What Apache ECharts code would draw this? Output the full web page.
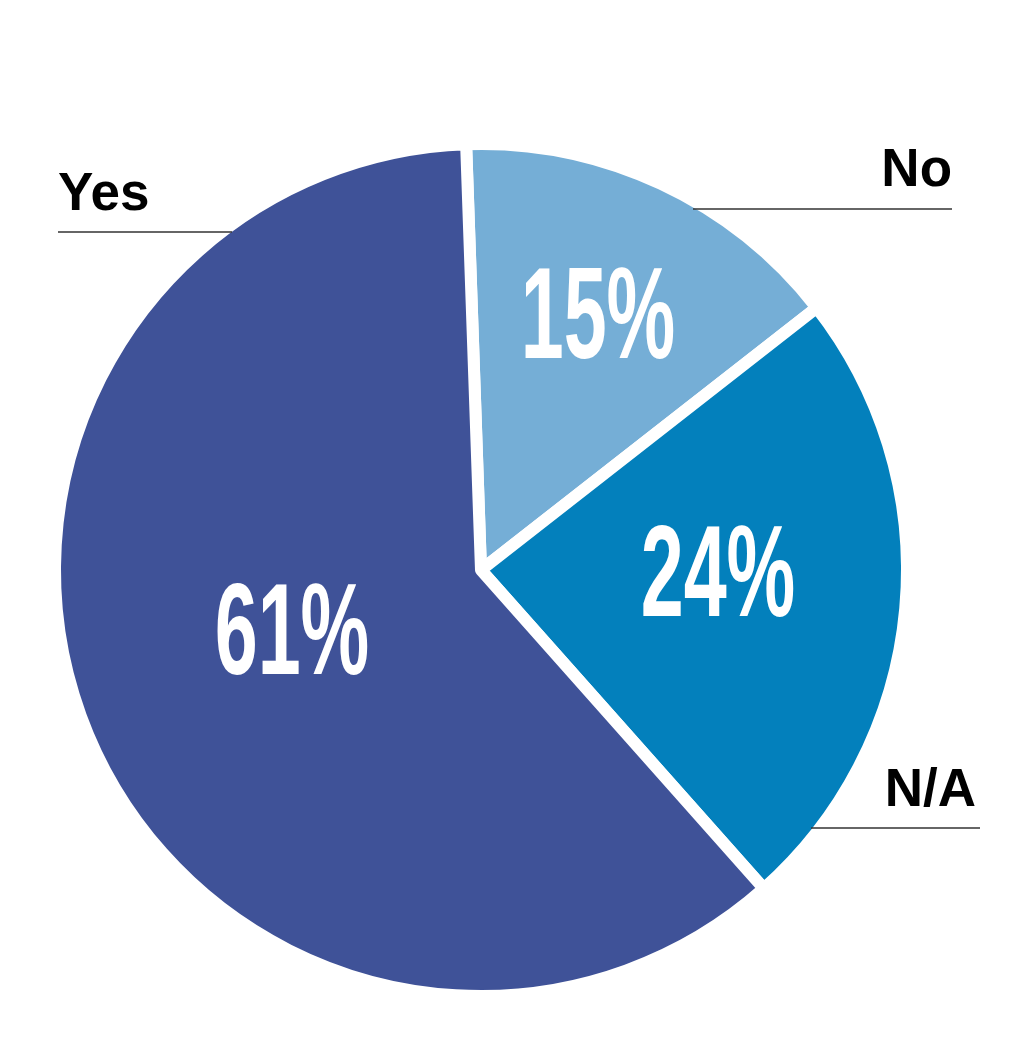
<!DOCTYPE html>
<html>
<head>
<meta charset="utf-8">
<script src="https://cdn.jsdelivr.net/npm/echarts@6/dist/echarts.min.js"></script>
<style>html,body{margin:0;padding:0;background:#fff;}#c{width:1015px;height:1055px;}</style>
</head>
<body>
<div id="c"></div>
<script>
const categories = ['No', 'N/A', 'Yes'];
const values = [15, 24, 61];
const colors = ['#75AED6', '#0380BC', '#3F5298'];

const CENTER = [481, 570];
const R = 426;
// label anchors (layout only)
const innerPos = [[598, 322], [718, 580], [292, 638]];
const outerLab = [
  {x: 952, y: 198, align: 'right', lineY: 209, x1: 693, x2: 952},
  {x: 976, y: 818, align: 'right', lineY: 828, x1: 811, x2: 980},
  {x: 58,  y: 222, align: 'left',  lineY: 232, x1: 232, x2: 58}
];

const chart = echarts.init(document.getElementById('c'), null, {renderer: 'canvas'});
const pieData = categories.map((c, i) => ({name: c, value: values[i], itemStyle: {color: colors[i]}}));

chart.setOption({
  animation: false,
  backgroundColor: '#ffffff',
  series: [
    {
      type: 'pie', z: 2,
      center: CENTER, radius: [0, R], startAngle: 92, clockwise: true,
      data: pieData,
      itemStyle: {borderColor: '#ffffff', borderWidth: 12},
      label: {
        show: true, position: 'inside', formatter: '{d}%', color: '#ffffff',
        fontFamily: '"Liberation Sans",Arial,sans-serif', fontWeight: 'bold', fontSize: 92
      },
      labelLine: {show: false},
      labelLayout: function (p) {
        const q = innerPos[p.dataIndex];
        return {x: q[0], y: q[1], align: 'center', verticalAlign: 'middle'};
      },
      emphasis: {disabled: true}
    },
    {
      type: 'pie', z: 3,
      center: CENTER, radius: [0, R], startAngle: 92, clockwise: true,
      silent: true,
      data: categories.map((c, i) => ({name: c, value: values[i]})),
      itemStyle: {color: 'rgba(0,0,0,0)', borderWidth: 0},
      label: {
        show: true, position: 'outside', formatter: '{b}', color: '#000000',
        overflow: 'none', width: 300,
        fontFamily: '"Liberation Sans",Arial,sans-serif', fontWeight: 'bold', fontSize: 53
      },
      labelLine: {show: true, maxSurfaceAngle: 180, minTurnAngle: 0, lineStyle: {color: '#333333', width: 1.5}},
      labelLayout: function (p) {
        const o = outerLab[p.dataIndex];
        const mid = (o.x1 + o.x2) / 2;
        return {
          x: o.x, y: o.y, align: o.align, verticalAlign: 'bottom',
          labelLinePoints: [[o.x1, o.lineY], [mid, o.lineY], [o.x2, o.lineY]]
        };
      },
      emphasis: {disabled: true}
    }
  ]
});

// stretch the percentage labels to mimic the condensed display face of the original
function condense() {
  try {
    const zr = chart.getZr();
    zr.storage.getRoots().forEach(function (root) {
      const visit = function (el) {
        const t = el.getTextContent && el.getTextContent();
        if (t && t.style && /%$/.test(String(t.style.text))) {
          t.attr({scaleX: 0.84, scaleY: 1.42, originX: 0, originY: 0});
        }
      };
      visit(root);
      if (root.traverse) root.traverse(visit);
    });
    zr.refreshImmediately();
  } catch (e) {}
}
condense();
setTimeout(condense, 30);
</script>
</body>
</html>
